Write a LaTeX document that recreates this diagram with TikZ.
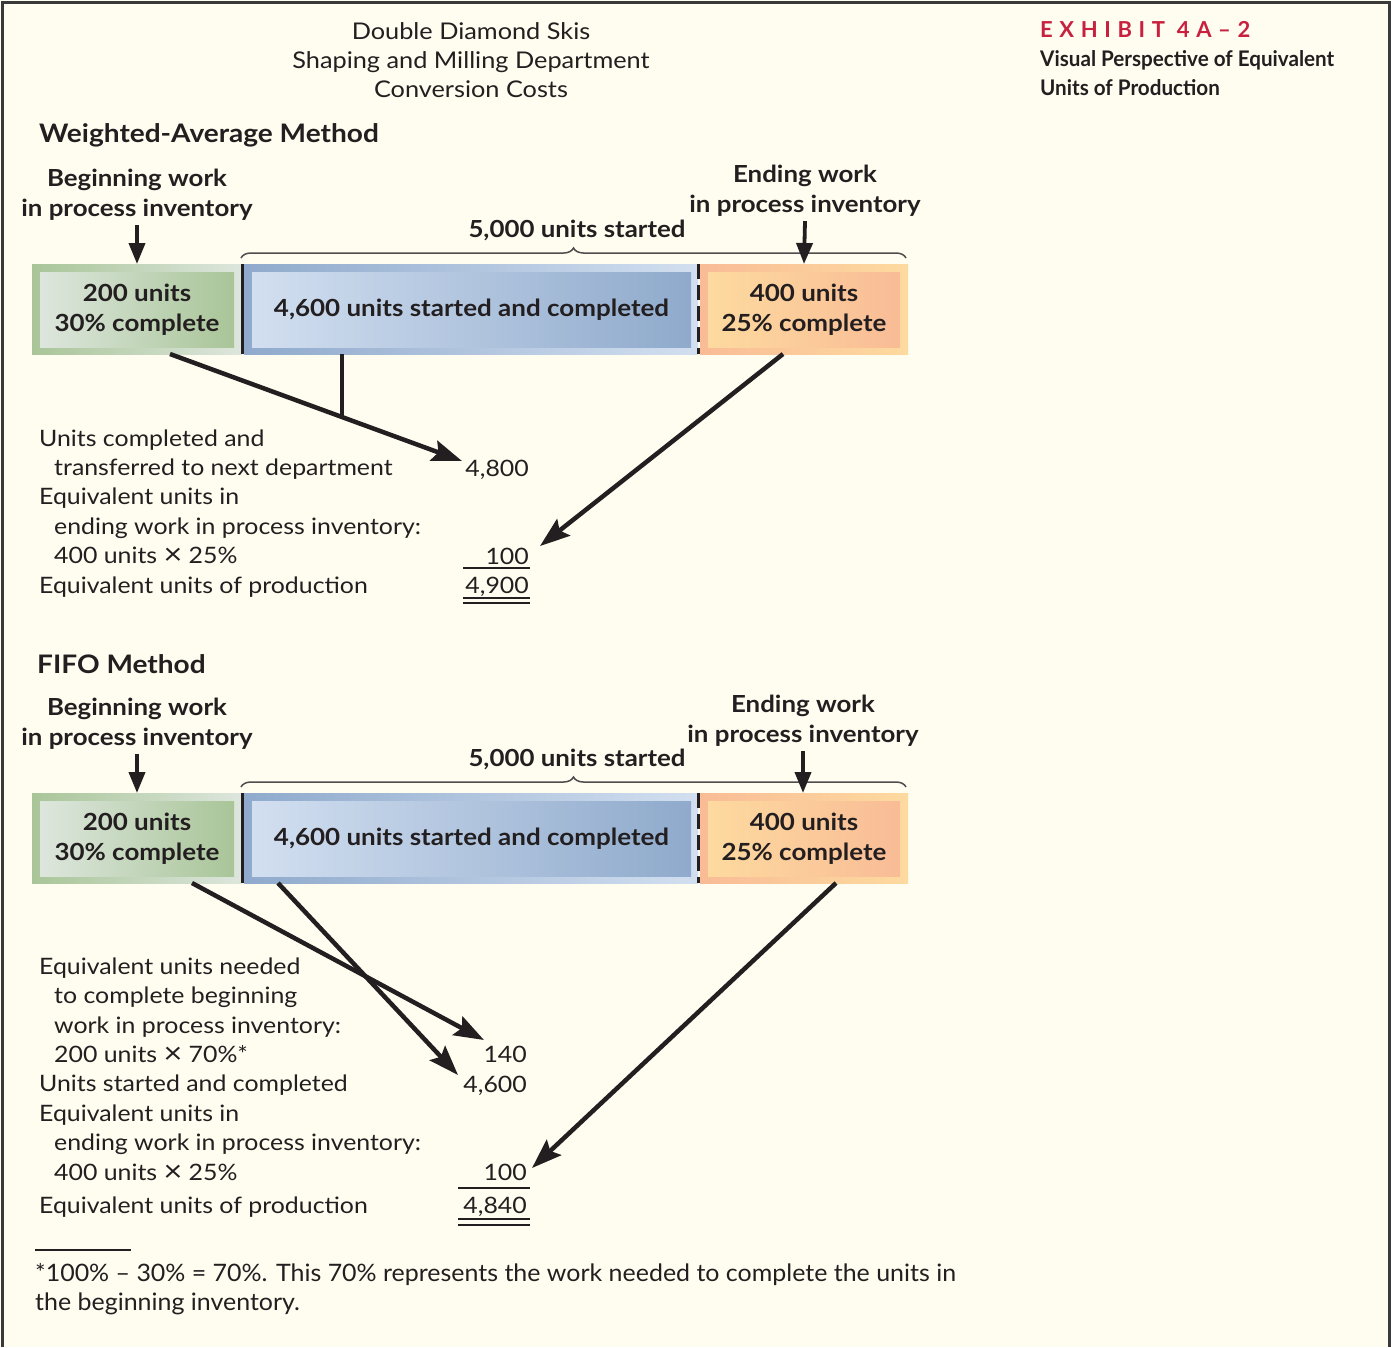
\documentclass[tikz,border=0pt]{standalone}
\usepackage{fontspec}
\setmainfont{Lato}[FakeStretch=1.1]
\newfontfamily\narrowfont[FakeStretch=0.96]{Lato}
\newfontfamily\notefont[FakeStretch=1.04]{Lato}
\newfontfamily\spacedfont[LetterSpace=30]{Lato}
\usetikzlibrary{arrows.meta,decorations.pathreplacing,calc}

\newcommand{\multsign}{\raisebox{-0.06em}{\scalebox{1.3}{\texttimes}}}

\definecolor{paper}{HTML}{FFFCF0}
\definecolor{ink}{HTML}{231F20}
\definecolor{frameink}{HTML}{3A3A3A}
\definecolor{exred}{HTML}{C8203F}
\definecolor{greenA}{HTML}{A9C598}
\definecolor{greenB}{HTML}{DDE6DD}
\definecolor{blueA}{HTML}{8FAACC}
\definecolor{blueB}{HTML}{D2DFF0}
\definecolor{orangeA}{HTML}{F9BC96}
\definecolor{orangeB}{HTML}{FDDA9F}

\tikzset{
  body/.style={font=\fontsize{22.6}{29.4}\selectfont, text=ink, inner sep=0pt},
  methodhead/.style={font=\bfseries\fontsize{25.5}{29}\selectfont, text=ink, inner sep=0pt},
  callout/.style={font=\bfseries\fontsize{23.5}{30}\selectfont, text=ink, inner sep=0pt, align=center},
  boxtext/.style={font=\bfseries\fontsize{23.6}{29.5}\selectfont, text=ink, align=center},
  outerbox/.style={minimum height=90pt, inner sep=0pt, outer sep=0pt},
  innerbox/.style={minimum height=75pt, inner sep=0pt, outer sep=0pt},
  downarrow/.style={line width=3.8pt, draw=ink, -{Triangle[length=21pt,width=16pt]}},
  flow/.style={line width=4.5pt, draw=ink, -{Stealth[length=30pt,width=21pt,inset=5pt]}},
  flowline/.style={line width=4.5pt, draw=ink},
  bracket/.style={draw=ink!80, line width=1.5pt, decorate,
    decoration={brace, amplitude=10pt}},
  rulethin/.style={draw=ink, line width=2.4pt},
  ruledouble/.style={draw=ink, line width=2.2pt},
}

\begin{document}
\begin{tikzpicture}[x=1pt, y=-1pt]
  % page and frame
  \fill[paper] (0,0) rectangle (1391,1347);
  \useasboundingbox (0,0) rectangle (1391,1347);
  \draw[line width=3pt, draw=frameink] (2,1347) -- (2,2) -- (1389,2) -- (1389,1347);

  % title block (anchors sit on the baseline of the last line)
  \node[body, font=\fontsize{23}{29}\selectfont, align=center, anchor=base] (title) at (471,97)
    {Double Diamond Skis\\Shaping and Milling Department\\Conversion Costs};
  \node[inner sep=0pt, anchor=base west, text=exred,
        font=\spacedfont\bfseries\fontsize{22}{24}\selectfont] (exhibit) at (1040,37) {EXHIBIT 4A–2};
  \node[inner sep=0pt, anchor=base west, text=ink, align=left,
        font=\narrowfont\bfseries\fontsize{21.5}{29}\selectfont] (extitle) at (1040,95)
    {Visual Perspective of Equivalent\\Units of Production};

  % ---------------- weighted-average method ----------------
  \node[methodhead, anchor=base west] (wahead) at (39,142) {Weighted-Average Method};
  \node[callout, anchor=base] (wabeg) at (137,216) {Beginning work\\in process inventory};
  \node[callout, anchor=base] (waend) at (805,212) {Ending work\\in process inventory};
  \node[callout, anchor=base] (wastart) at (577,237) {5,000 units started};
  \draw[bracket] (241,258) coordinate (wabl) -- (906,258) coordinate (wabr);

  \node[outerbox, minimum width=210pt, left color=greenA, right color=greenB] (wag) at (137,309) {};
  \node[innerbox, minimum width=194pt, left color=greenB, right color=greenA, boxtext] (wagi) at (137,309.5) {200 units\\30\% complete};
  \node[outerbox, minimum width=454pt, left color=blueA, right color=blueB] (wab) at (471,309) {};
  \node[innerbox, minimum width=439pt, left color=blueB, right color=blueA, boxtext] (wabi) at (471.5,309.5) {4,600 units started and completed};
  \node[outerbox, minimum width=208pt, left color=orangeA, right color=orangeB] (wao) at (804,309) {};
  \node[innerbox, minimum width=192pt, left color=orangeB, right color=orangeA, boxtext] (waoi) at (804,309.5) {400 units\\25\% complete};
  \draw[line width=3pt, draw=ink] (wag.north east) -- (wag.south east);
  \draw[line width=3pt, draw=ink, dash pattern=on 15pt off 6pt] (wab.north east) -- (wab.south east);

  \draw[downarrow] (wabeg.south) ++(0,5) -- (wag.north);
  \draw[downarrow] (waend.south) ++(0,5) -- (wao.north);

  % values
  \node[body, anchor=base west, align=left] (walist) at (39,593)
    {Units completed and\\
     \hspace*{15pt}transferred to next department\\
     Equivalent units in\\
     \hspace*{15pt}ending work in process inventory:\\
     \hspace*{15pt}400 units \multsign\ 25\%\\
     Equivalent units of production};
  \node[body, anchor=base east] (wa4800) at (529,476) {4,800};
  \node[body, anchor=base east] (wa100) at (529,564) {100};
  \node[body, anchor=base east] (wa4900) at (529,593) {4,900};
  \draw[rulethin] (463,568) -- (530,568);
  \draw[ruledouble] (463,598) -- (530,598) (463,603) -- (530,603);

  \coordinate (wagout) at (170,354);
  \coordinate (wabout) at (342,354);
  \coordinate (wajoin) at (342,417);
  \coordinate (watip1) at (462,461);
  \coordinate (waoout) at (783,354);
  \coordinate (watip2) at (540,546);
  \draw[flow] (wagout) -- (watip1);
  \draw[flowline] (wabout) -- (wajoin);
  \draw[flow] (waoout) -- (watip2);

  % ---------------- FIFO method ----------------
  \node[methodhead, anchor=base west] (fihead) at (37,673) {FIFO Method};
  \node[callout, anchor=base] (fibeg) at (137,745) {Beginning work\\in process inventory};
  \node[callout, anchor=base] (fiend) at (803,742) {Ending work\\in process inventory};
  \node[callout, anchor=base] (fistart) at (577,766) {5,000 units started};
  \draw[bracket] (241,787) coordinate (fibl) -- (906,787) coordinate (fibr);

  \node[outerbox, minimum width=210pt, left color=greenA, right color=greenB] (fig) at (137,838) {};
  \node[innerbox, minimum width=194pt, left color=greenB, right color=greenA, boxtext] (figi) at (137,838.5) {200 units\\30\% complete};
  \node[outerbox, minimum width=454pt, left color=blueA, right color=blueB] (fib) at (471,838) {};
  \node[innerbox, minimum width=439pt, left color=blueB, right color=blueA, boxtext] (fibi) at (471.5,838.5) {4,600 units started and completed};
  \node[outerbox, minimum width=208pt, left color=orangeA, right color=orangeB] (fio) at (804,838) {};
  \node[innerbox, minimum width=192pt, left color=orangeB, right color=orangeA, boxtext] (fioi) at (804,838.5) {400 units\\25\% complete};
  \draw[line width=3pt, draw=ink] (fig.north east) -- (fig.south east);
  \draw[line width=3pt, draw=ink, dash pattern=on 15pt off 6pt] (fib.north east) -- (fib.south east);

  \coordinate (fiendtip) at (803,793);
  \draw[downarrow] (fibeg.south) ++(0,5) -- (fig.north);
  \draw[downarrow] (fiend.south) ++(0,5) -- (fiendtip);

  \node[body, anchor=base west, align=left] (filist) at (39,1180)
    {Equivalent units needed\\
     \hspace*{15pt}to complete beginning\\
     \hspace*{15pt}work in process inventory:\\
     \hspace*{15pt}200 units \multsign\ 70\%*\\
     Units started and completed\\
     Equivalent units in\\
     \hspace*{15pt}ending work in process inventory:\\
     \hspace*{15pt}400 units \multsign\ 25\%};
  \node[body, anchor=base west] (fitotal) at (39,1213) {Equivalent units of production};
  \node[body, anchor=base east] (fi140) at (527,1062) {140};
  \node[body, anchor=base east] (fi4600) at (527,1092) {4,600};
  \node[body, anchor=base east] (fi100) at (527,1180) {100};
  \node[body, anchor=base east] (fi4840) at (527,1213) {4,840};
  \draw[rulethin] (458,1188) -- (530,1188);
  \draw[ruledouble] (458,1219) -- (530,1219) (458,1225) -- (530,1225);

  \coordinate (figout) at (192,883);
  \coordinate (fitip1) at (484,1040);
  \coordinate (fibout) at (278,883);
  \coordinate (fitip2) at (458,1075);
  \coordinate (fioout) at (836,883);
  \coordinate (fitip3) at (532,1168);
  \draw[flow] (figout) -- (fitip1);
  \draw[flow] (fibout) -- (fitip2);
  \draw[flow] (fioout) -- (fitip3);

  % footnote
  \draw[draw=ink, line width=1.2pt] (35,1250) -- (131,1250);
  \node[inner sep=0pt, anchor=base west, align=left, text=ink,
        font=\notefont\fontsize{24}{29}\selectfont] (footnote) at (35,1310)
    {*100\% – 30\% = 70\%. This 70\% represents the work needed to complete the units in\\the beginning inventory.};
\end{tikzpicture}
\end{document}
